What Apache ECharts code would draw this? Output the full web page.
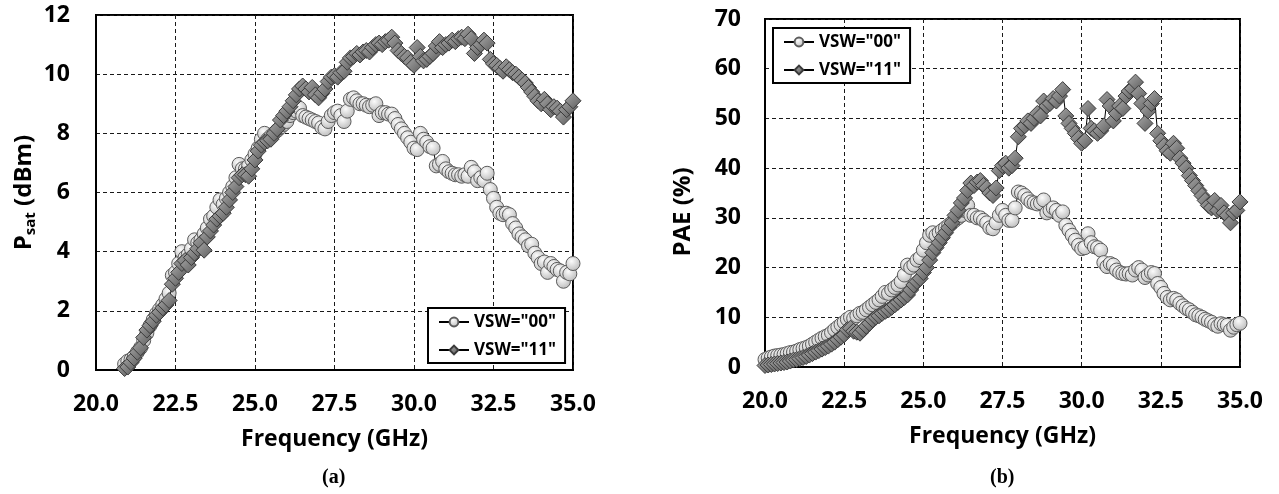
<!DOCTYPE html>
<html>
<head>
<meta charset="utf-8">
<script src="https://cdn.jsdelivr.net/npm/echarts@6/dist/echarts.min.js"></script>
<style>
html,body{margin:0;padding:0;background:#fff;}
#c{width:1279px;height:494px;}
</style>
</head>
<body>
<div id="c"></div>
<script>
// ---------------- data ----------------
const seriesNames = ['VSW="00"', 'VSW="11"'];
const xTicks = { min: 20, max: 35, step: 2.5 };
const psatTicks = { min: 0, max: 12, step: 2 };
const paeTicks = { min: 0, max: 70, step: 10 };

// frequency points (GHz), PAE panel
const freqPAE = [
20.0,20.1,20.2,20.3,20.4,20.5,20.6,20.7,20.8,20.9,
21.0,21.1,21.2,21.3,21.4,21.5,21.6,21.7,21.8,21.9,
22.0,22.1,22.2,22.3,22.4,22.5,22.6,22.7,22.8,22.9,
23.0,23.1,23.2,23.3,23.4,23.5,23.6,23.7,23.8,23.9,
24.0,24.1,24.2,24.3,24.4,24.5,24.6,24.7,24.8,24.9,
25.0,25.1,25.2,25.3,25.4,25.5,25.6,25.7,25.8,25.9,
26.0,26.1,26.2,26.3,26.4,26.5,26.6,26.7,26.8,26.9,
27.0,27.1,27.2,27.3,27.4,27.5,27.6,27.7,27.8,27.9,
28.0,28.1,28.2,28.3,28.4,28.5,28.6,28.7,28.8,28.9,
29.0,29.1,29.2,29.3,29.4,29.5,29.6,29.7,29.8,29.9,
30.0,30.1,30.2,30.3,30.4,30.5,30.6,30.7,30.8,30.9,
31.0,31.1,31.2,31.3,31.4,31.5,31.6,31.7,31.8,31.9,
32.0,32.1,32.2,32.3,32.4,32.5,32.6,32.7,32.8,32.9,
33.0,33.1,33.2,33.3,33.4,33.5,33.6,33.7,33.8,33.9,
34.0,34.1,34.2,34.3,34.4,34.5,34.6,34.7,34.8,34.9,
35.0];

// frequency points (GHz), Psat panel (starts at 20.9 GHz)
const freqPsat = [
20.9,21.0,21.1,21.2,21.3,21.4,21.5,21.6,21.7,21.8,
21.9,22.0,22.1,22.2,22.3,22.4,22.5,22.6,22.7,22.8,
22.9,23.0,23.1,23.2,23.3,23.4,23.5,23.6,23.7,23.8,
23.9,24.0,24.1,24.2,24.3,24.4,24.5,24.6,24.7,24.8,
24.9,25.0,25.1,25.2,25.3,25.4,25.5,25.6,25.7,25.8,
25.9,26.0,26.1,26.2,26.3,26.4,26.5,26.6,26.7,26.8,
26.9,27.0,27.1,27.2,27.3,27.4,27.5,27.6,27.7,27.8,
27.9,28.0,28.1,28.2,28.3,28.4,28.5,28.6,28.7,28.8,
28.9,29.0,29.1,29.2,29.3,29.4,29.5,29.6,29.7,29.8,
29.9,30.0,30.1,30.2,30.3,30.4,30.5,30.6,30.7,30.8,
30.9,31.0,31.1,31.2,31.3,31.4,31.5,31.6,31.7,31.8,
31.9,32.0,32.1,32.2,32.3,32.4,32.5,32.6,32.7,32.8,
32.9,33.0,33.1,33.2,33.3,33.4,33.5,33.6,33.7,33.8,
33.9,34.0,34.1,34.2,34.3,34.4,34.5,34.6,34.7,34.8,
34.9,35.0];

// Psat (dBm)
const psat00 = [
0.2,0.3,0.35,0.45,0.6,0.75,1.0,1.25,1.5,1.7,
1.9,2.05,2.2,2.4,2.6,3.2,3.3,3.6,4.0,3.8,
3.9,4.1,4.4,4.3,4.4,4.6,4.8,5.1,5.2,5.5,
5.75,5.6,5.8,6.0,6.2,6.5,6.95,6.8,6.8,6.9,
7.1,7.3,7.5,7.8,8.0,7.8,7.9,8.0,8.1,8.2,
8.3,8.4,8.6,8.7,8.75,8.85,8.6,8.55,8.5,8.45,
8.4,8.35,8.2,8.15,8.4,8.6,8.7,8.75,8.6,8.4,
8.75,9.15,9.2,9.1,9.0,9.0,8.95,8.9,8.95,9.0,
8.6,8.7,8.7,8.65,8.65,8.5,8.3,8.15,8.0,7.85,
7.7,7.5,7.45,8.0,7.8,7.7,7.55,7.5,6.9,6.95,
7.05,6.8,6.7,6.65,6.6,6.6,6.55,6.6,6.55,6.85,
6.7,6.4,6.5,6.4,6.65,6.1,5.8,5.5,5.3,5.25,
5.3,5.25,4.95,4.8,4.6,4.5,4.4,4.2,4.25,3.95,
3.8,3.6,3.65,3.3,3.6,3.5,3.4,3.35,3.0,3.3,
3.25,3.6];
const psat11 = [
0.05,0.1,0.25,0.4,0.6,0.75,1.1,1.35,1.5,1.65,
1.85,1.95,2.1,2.2,2.35,2.9,3.1,3.3,3.6,3.7,
3.55,3.8,3.95,4.1,4.3,4.05,4.5,4.7,4.9,5.1,
5.2,5.3,5.5,5.75,6.0,6.2,6.5,6.6,6.6,6.55,
6.8,7.1,7.4,7.6,7.7,7.75,7.8,8.0,8.15,8.45,
8.6,8.75,8.9,9.1,9.3,9.5,9.6,9.5,9.4,9.55,
9.3,9.2,9.35,9.5,9.75,9.9,9.95,9.9,10.05,10.1,
10.4,10.55,10.6,10.7,10.65,10.75,10.8,10.75,10.9,11.0,
11.05,11.0,11.1,11.15,11.25,11.05,10.8,10.7,10.6,10.55,
10.4,10.3,10.9,10.6,10.45,10.5,10.6,10.7,10.95,11.1,
10.9,11.0,11.05,11.15,11.1,11.2,11.25,11.2,11.35,11.2,
10.7,10.9,11.0,11.15,11.05,10.5,10.35,10.3,10.2,10.1,
10.25,10.15,10.05,10.0,9.9,9.8,9.7,9.55,9.4,9.25,
9.1,9.0,9.15,9.0,8.8,8.9,8.85,8.75,8.55,8.8,
8.9,9.1];

// PAE (%)
const pae00 = [
1.5,1.8,2.0,2.2,2.3,2.4,2.5,2.7,2.9,3.0,
3.2,3.5,3.7,3.9,4.2,4.6,5.0,5.4,5.8,6.1,
6.4,6.9,7.5,8.0,8.5,9.0,9.6,10.0,9.8,10.3,
10.8,11.0,11.5,12.0,12.5,13.0,13.5,14.2,15.0,14.8,
15.5,16.0,16.5,17.2,18.5,20.5,20.0,20.5,21.5,22.0,
23.5,25.0,26.5,27.0,26.5,27.0,27.5,28.0,28.5,29.0,
29.5,30.0,30.5,31.5,32.5,30.5,30.5,30.0,30.0,29.5,
29.0,28.0,27.8,29.0,30.5,31.5,30.5,29.5,29.5,32.0,
35.2,35.0,34.5,33.8,33.2,33.0,32.8,33.0,33.6,31.0,
31.5,32.0,31.5,30.5,31.2,28.5,27.5,26.5,25.5,24.5,
23.8,24.0,26.8,25.0,24.2,24.0,23.5,21.0,20.2,20.8,
20.5,19.5,19.0,18.8,18.7,18.8,18.5,19.5,20.0,19.5,
18.0,18.5,19.0,18.8,16.8,16.0,14.8,14.0,13.5,13.8,
13.5,12.8,12.3,11.8,11.5,11.0,10.5,10.3,10.0,9.6,
9.3,9.0,8.5,8.2,8.7,8.5,8.4,7.4,8.0,8.5,
8.8];
const pae11 = [
0.3,0.4,0.5,0.6,0.7,0.8,0.9,1.0,1.2,1.4,
1.5,1.7,1.9,2.1,2.4,2.7,3.0,3.3,3.6,3.9,
4.2,4.6,5.0,5.5,6.0,6.5,7.5,7.8,7.2,7.0,
6.8,7.5,8.2,8.8,9.5,10.0,10.3,10.8,11.2,11.5,
12.0,12.5,13.0,13.5,14.0,14.5,15.5,16.5,17.2,17.8,
19.0,20.0,21.5,23.0,24.0,25.0,26.0,27.0,28.0,29.0,
30.5,31.5,33.0,34.0,35.5,37.0,36.5,37.2,37.5,36.5,
36.0,35.0,34.5,36.0,39.5,40.5,41.0,40.0,40.5,42.0,
46.3,48.0,48.5,49.5,49.0,50.0,51.0,50.5,53.5,52.5,
53.0,54.0,53.5,54.5,55.8,50.5,49.0,48.0,47.0,46.0,
45.0,45.5,52.0,48.0,47.5,47.0,47.5,48.5,53.8,52.5,
49.5,51.0,52.5,52.0,54.5,55.5,56.0,57.3,55.0,53.0,
49.0,51.5,53.0,54.0,47.0,45.5,44.5,43.5,43.0,45.0,
44.0,42.0,41.0,40.0,38.5,37.5,36.5,35.5,34.5,33.5,
32.5,32.0,33.5,31.5,32.5,31.0,30.5,29.0,31.0,31.5,
33.2];

// ---------------- chart ----------------
const FONT = '"Open Sans", "DejaVu Sans", sans-serif';
const pair = (xs, ys) => xs.map((x, i) => [x, ys[i]]);

const circleStyle = {
  color: { type: 'radial', x: 0.4, y: 0.35, r: 0.7,
    colorStops: [{ offset: 0, color: '#fbfbfb' }, { offset: 1, color: '#b9b9b9' }] },
  borderColor: '#5c5c5c', borderWidth: 1
};
const diamondStyle = {
  color: { type: 'linear', x: 0, y: 0, x2: 1, y2: 1,
    colorStops: [{ offset: 0, color: '#a9a9a9' }, { offset: 1, color: '#5b5b5b' }] },
  borderColor: '#3a3a3a', borderWidth: 1
};

function mkSeries(name, xi, data, isDiamond) {
  return {
    name, type: 'line', xAxisIndex: xi, yAxisIndex: xi, data,
    symbol: isDiamond ? 'diamond' : 'circle',
    symbolSize: isDiamond ? 16 : 14,
    showAllSymbol: true,
    lineStyle: { color: '#000', width: 1 },
    itemStyle: isDiamond ? diamondStyle : circleStyle,
    emphasis: { disabled: true },
    z: isDiamond ? 3 : 2
  };
}

const splitLine = { show: true, lineStyle: { color: '#1a1a1a', width: 1, type: [4, 3] } };
const axisLbl = { color: '#000', fontFamily: FONT, fontWeight: 'bold', fontSize: 23 };
const nameStyle = { color: '#000', fontFamily: FONT, fontWeight: 'bold', fontSize: 23 };

function xAxisCfg(gi) {
  return {
    type: 'value', gridIndex: gi, min: xTicks.min, max: xTicks.max, interval: xTicks.step,
    name: 'Frequency (GHz)', nameLocation: 'middle', nameGap: 58,
    nameTextStyle: nameStyle,
    axisLine: { show: true, onZero: false, lineStyle: { color: '#000', width: 2 } },
    axisTick: { show: false },
    axisLabel: Object.assign({ margin: 23, formatter: v => v.toFixed(1) }, axisLbl),
    splitLine
  };
}

const legendBase = {
  orient: 'vertical',
  data: seriesNames,
  backgroundColor: '#fff',
  borderColor: '#000', borderWidth: 2,
  padding: [5, 9, 4, 10],
  itemGap: 10, itemWidth: 30, itemHeight: 11,
  selectedMode: false,
  textStyle: { color: '#000', fontFamily: FONT, fontWeight: 'bold', fontSize: 17, lineHeight: 18 }
};

const chart = echarts.init(document.getElementById('c'), null, { renderer: 'canvas' });
chart.setOption({
  animation: false,
  backgroundColor: '#fff',
  grid: [
    { left: 96, top: 15, width: 477, height: 355, show: true, borderColor: '#000', borderWidth: 2 },
    { left: 765, top: 19, width: 475, height: 348, show: true, borderColor: '#000', borderWidth: 2 }
  ],
  xAxis: [xAxisCfg(0), xAxisCfg(1)],
  yAxis: [
    {
      type: 'value', gridIndex: 0, min: psatTicks.min, max: psatTicks.max, interval: psatTicks.step,
      name: '{a|P}{s|sat}{a| (dBm)}', nameLocation: 'middle', nameGap: 58,
      nameTextStyle: Object.assign({}, nameStyle, {
        fontSize: 24,
        rich: {
          a: { fontFamily: FONT, fontWeight: 'bold', fontSize: 24, color: '#000', lineHeight: 28 },
          s: { fontFamily: FONT, fontWeight: 'bold', fontSize: 15, color: '#000', lineHeight: 14, verticalAlign: 'bottom' }
        }
      }),
      axisLine: { show: true, lineStyle: { color: '#000', width: 2 } },
      axisTick: { show: false },
      axisLabel: Object.assign({ margin: 26 }, axisLbl),
      splitLine
    },
    {
      type: 'value', gridIndex: 1, min: paeTicks.min, max: paeTicks.max, interval: paeTicks.step,
      name: 'PAE (%)', nameLocation: 'middle', nameGap: 70,
      nameTextStyle: Object.assign({}, nameStyle, { fontSize: 24, padding: [0, 38, 0, 0] }),
      axisLine: { show: true, lineStyle: { color: '#000', width: 2 } },
      axisTick: { show: false },
      axisLabel: Object.assign({ margin: 24 }, axisLbl),
      splitLine
    }
  ],
  legend: [
    Object.assign({}, legendBase, { left: 428, top: 308 }),
    Object.assign({}, legendBase, { left: 773, top: 28 })
  ],
  graphic: [
    { type: 'text', left: 322, top: 468, style: { text: '(a)', fill: '#000', font: 'bold 20px "Liberation Serif", serif' } },
    { type: 'text', left: 990, top: 468, style: { text: '(b)', fill: '#000', font: 'bold 20px "Liberation Serif", serif' } }
  ],
  series: [
    mkSeries(seriesNames[0], 0, pair(freqPsat, psat00), false),
    mkSeries(seriesNames[1], 0, pair(freqPsat, psat11), true),
    mkSeries(seriesNames[0], 1, pair(freqPAE, pae00), false),
    mkSeries(seriesNames[1], 1, pair(freqPAE, pae11), true)
  ]
});
</script>
</body>
</html>
